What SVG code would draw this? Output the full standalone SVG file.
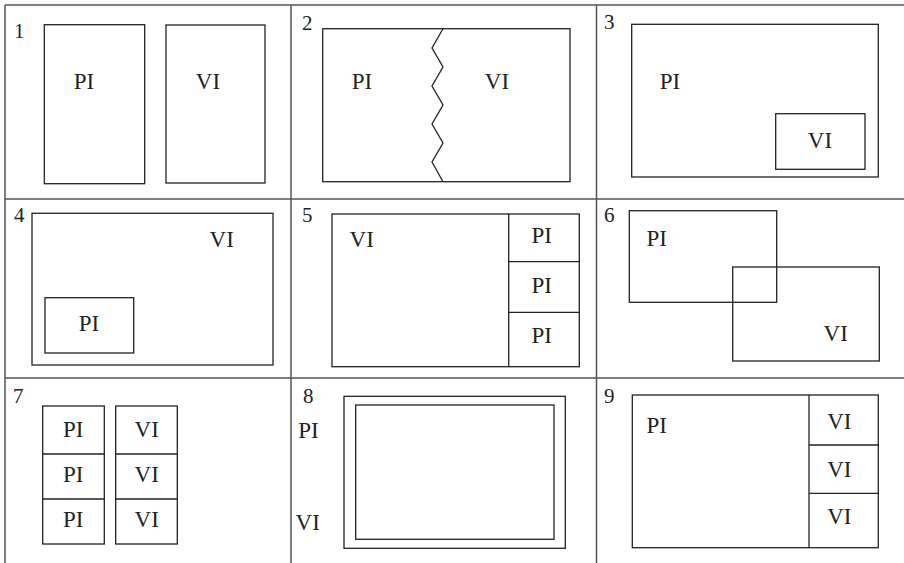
<svg xmlns="http://www.w3.org/2000/svg" width="904" height="563" viewBox="0 0 904 563">
<style>
.grid{stroke:#555;stroke-width:1.5;fill:none}
.b{stroke:#222;stroke-width:1.3;fill:none}
</style>
<rect width="904" height="563" fill="#fff"/>
<g id="grid">
<line class="grid" x1="5" y1="5" x2="904" y2="5"/>
<line class="grid" x1="5" y1="199" x2="904" y2="199"/>
<line class="grid" x1="5" y1="378" x2="904" y2="378"/>
<line class="grid" x1="5" y1="5" x2="5" y2="563"/>
<line class="grid" x1="291" y1="5" x2="291" y2="563"/>
<line class="grid" x1="596.5" y1="5" x2="596.5" y2="563"/>
</g>
<g id="panel1">
<text font-family="Liberation Serif" font-size="21" fill="#222" x="14" y="38">1</text>
<rect class="b" x="44.3" y="24.7" width="100.4" height="159"/>
<rect class="b" x="166" y="25" width="99" height="158"/>
<text font-family="Liberation Serif" font-size="23" fill="#222" text-anchor="middle" x="84" y="89">PI</text>
<text font-family="Liberation Serif" font-size="23" fill="#222" text-anchor="middle" x="208" y="89">VI</text>
</g>
<g id="panel2">
<text font-family="Liberation Serif" font-size="21" fill="#222" x="302" y="30">2</text>
<rect class="b" x="322.7" y="28.7" width="247.3" height="153"/>
<polyline class="b" points="443,28.7 432,48 443,67 432,86 443,105 432,124 443,143 432,162 443,181.7"/>
<text font-family="Liberation Serif" font-size="23" fill="#222" text-anchor="middle" x="362" y="89">PI</text>
<text font-family="Liberation Serif" font-size="23" fill="#222" text-anchor="middle" x="497" y="89">VI</text>
</g>
<g id="panel3">
<text font-family="Liberation Serif" font-size="21" fill="#222" x="604" y="29">3</text>
<rect class="b" x="631.7" y="24.3" width="246.6" height="152.7"/>
<rect class="b" x="775.7" y="113.7" width="89.3" height="55.6"/>
<text font-family="Liberation Serif" font-size="23" fill="#222" text-anchor="middle" x="670" y="89">PI</text>
<text font-family="Liberation Serif" font-size="23" fill="#222" text-anchor="middle" x="820" y="147.7">VI</text>
</g>
<g id="panel4">
<text font-family="Liberation Serif" font-size="21" fill="#222" x="14" y="222">4</text>
<rect class="b" x="32" y="213.3" width="241" height="151.7"/>
<rect class="b" x="45" y="297.7" width="88.7" height="55.3"/>
<text font-family="Liberation Serif" font-size="23" fill="#222" text-anchor="middle" x="89" y="330.7">PI</text>
<text font-family="Liberation Serif" font-size="23" fill="#222" text-anchor="middle" x="221.7" y="246.7">VI</text>
</g>
<g id="panel5">
<text font-family="Liberation Serif" font-size="21" fill="#222" x="302" y="222">5</text>
<rect class="b" x="332" y="214" width="247.3" height="152.7"/>
<line class="b" x1="508.7" y1="214" x2="508.7" y2="366.7"/>
<line class="b" x1="508.7" y1="261.7" x2="579.3" y2="261.7"/>
<line class="b" x1="508.7" y1="312.3" x2="579.3" y2="312.3"/>
<text font-family="Liberation Serif" font-size="23" fill="#222" text-anchor="middle" x="361.7" y="246.7">VI</text>
<text font-family="Liberation Serif" font-size="23" fill="#222" text-anchor="middle" x="541.7" y="243.3">PI</text>
<text font-family="Liberation Serif" font-size="23" fill="#222" text-anchor="middle" x="541.7" y="293.3">PI</text>
<text font-family="Liberation Serif" font-size="23" fill="#222" text-anchor="middle" x="541.7" y="342.7">PI</text>
</g>
<g id="panel6">
<text font-family="Liberation Serif" font-size="21" fill="#222" x="604" y="222">6</text>
<rect class="b" x="629.3" y="210.7" width="147.4" height="91.6"/>
<rect class="b" x="732.7" y="267" width="146.6" height="94"/>
<text font-family="Liberation Serif" font-size="23" fill="#222" text-anchor="middle" x="656.7" y="246">PI</text>
<text font-family="Liberation Serif" font-size="23" fill="#222" text-anchor="middle" x="835.7" y="341">VI</text>
</g>
<g id="panel7">
<text font-family="Liberation Serif" font-size="21" fill="#222" x="13" y="403">7</text>
<rect class="b" x="42.7" y="406" width="61.6" height="138"/>
<line class="b" x1="42.7" y1="454" x2="104.3" y2="454"/>
<line class="b" x1="42.7" y1="499" x2="104.3" y2="499"/>
<rect class="b" x="115.7" y="406" width="61.6" height="138"/>
<line class="b" x1="115.7" y1="454" x2="177.3" y2="454"/>
<line class="b" x1="115.7" y1="499" x2="177.3" y2="499"/>
<text font-family="Liberation Serif" font-size="23" fill="#222" text-anchor="middle" x="73.3" y="436.7">PI</text>
<text font-family="Liberation Serif" font-size="23" fill="#222" text-anchor="middle" x="73.3" y="481.7">PI</text>
<text font-family="Liberation Serif" font-size="23" fill="#222" text-anchor="middle" x="73.3" y="526.7">PI</text>
<text font-family="Liberation Serif" font-size="23" fill="#222" text-anchor="middle" x="146.7" y="436.7">VI</text>
<text font-family="Liberation Serif" font-size="23" fill="#222" text-anchor="middle" x="146.7" y="481.7">VI</text>
<text font-family="Liberation Serif" font-size="23" fill="#222" text-anchor="middle" x="146.7" y="526.7">VI</text>
</g>
<g id="panel8">
<text font-family="Liberation Serif" font-size="21" fill="#222" x="303" y="403">8</text>
<rect class="b" x="344" y="396.3" width="221.3" height="152"/>
<rect class="b" x="355.7" y="405" width="198.3" height="134.3"/>
<text font-family="Liberation Serif" font-size="23" fill="#222" text-anchor="middle" x="308.5" y="438.3">PI</text>
<text font-family="Liberation Serif" font-size="23" fill="#222" text-anchor="middle" x="307.7" y="530">VI</text>
</g>
<g id="panel9">
<text font-family="Liberation Serif" font-size="21" fill="#222" x="604" y="403">9</text>
<rect class="b" x="632.3" y="395" width="246" height="152.7"/>
<line class="b" x1="809" y1="395" x2="809" y2="547.7"/>
<line class="b" x1="809" y1="445" x2="878.3" y2="445"/>
<line class="b" x1="809" y1="493.3" x2="878.3" y2="493.3"/>
<text font-family="Liberation Serif" font-size="23" fill="#222" text-anchor="middle" x="656.7" y="433.3">PI</text>
<text font-family="Liberation Serif" font-size="23" fill="#222" text-anchor="middle" x="839.3" y="429.3">VI</text>
<text font-family="Liberation Serif" font-size="23" fill="#222" text-anchor="middle" x="839.3" y="476.7">VI</text>
<text font-family="Liberation Serif" font-size="23" fill="#222" text-anchor="middle" x="839.3" y="524.3">VI</text>
</g>
<g id="connectors"/>
</svg>
